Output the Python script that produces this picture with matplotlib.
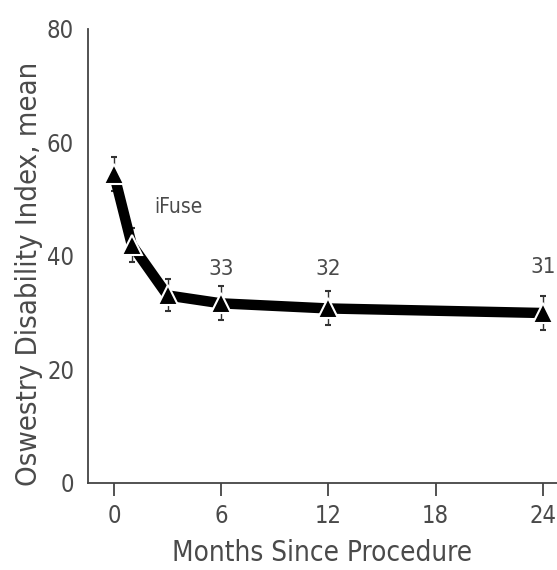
import numpy as np
import matplotlib.pyplot as plt

# Data
months = [0, 1, 3, 6, 12, 24]
odi_mean = [54.4, 41.9, 33.0, 31.6, 30.7, 29.9]
odi_err = [3.0, 3.0, 2.8, 3.0, 3.0, 3.0]
label_months = [6, 12, 24]
label_y = [37.7, 37.7, 38.0]
label_text = ["33", "32", "31"]
x_ticks = [0, 6, 12, 18, 24]
y_ticks = [0, 20, 40, 60, 80]

plt.rcParams['font.family'] = ['DejaVu Sans']
plt.rcParams['font.stretch'] = 'condensed'
txt = '#4a4a4a'

fig = plt.figure(figsize=(5.57, 5.70), dpi=100)
ax = fig.add_axes([0.158, 0.153, 0.842, 0.797])

ax.errorbar(months, odi_mean, yerr=odi_err, fmt='none', ecolor='#333333',
            elinewidth=1.0, capsize=2.5, capthick=1.5, zorder=1)
ax.plot(months, odi_mean, color='black', linewidth=7.5, solid_capstyle='butt', zorder=2)
ax.plot(months, odi_mean, linestyle='none', marker='^', markersize=15,
        markerfacecolor='black', markeredgecolor='white', markeredgewidth=1.5, zorder=3)

for m, yv, t in zip(label_months, label_y, label_text):
    ax.text(m, yv, t, ha='center', va='center', fontsize=16, color=txt)
ax.text(2.25, 48.6, 'iFuse', ha='left', va='center', fontsize=15, color=txt)

ax.set_xlim(-1.45, 24.8)
ax.set_ylim(0, 80)
ax.set_xticks(x_ticks)
ax.set_yticks(y_ticks)
ax.tick_params(axis='x', length=9, width=1.3, color='#444444', labelsize=17,
               labelcolor=txt, pad=6)
ax.tick_params(axis='y', length=0, labelsize=17, labelcolor=txt, pad=10)
for s in ['top', 'right']:
    ax.spines[s].set_visible(False)
for s in ['left', 'bottom']:
    ax.spines[s].set_color('#444444')
    ax.spines[s].set_linewidth(1.3)

ax.set_xlabel('Months Since Procedure', fontsize=20, color=txt, labelpad=8)
ax.set_ylabel('Oswestry Disability Index, mean', fontsize=21, color=txt)
ax.yaxis.set_label_coords(-0.095, 0.46)

fig.savefig('out.png', dpi=100)
